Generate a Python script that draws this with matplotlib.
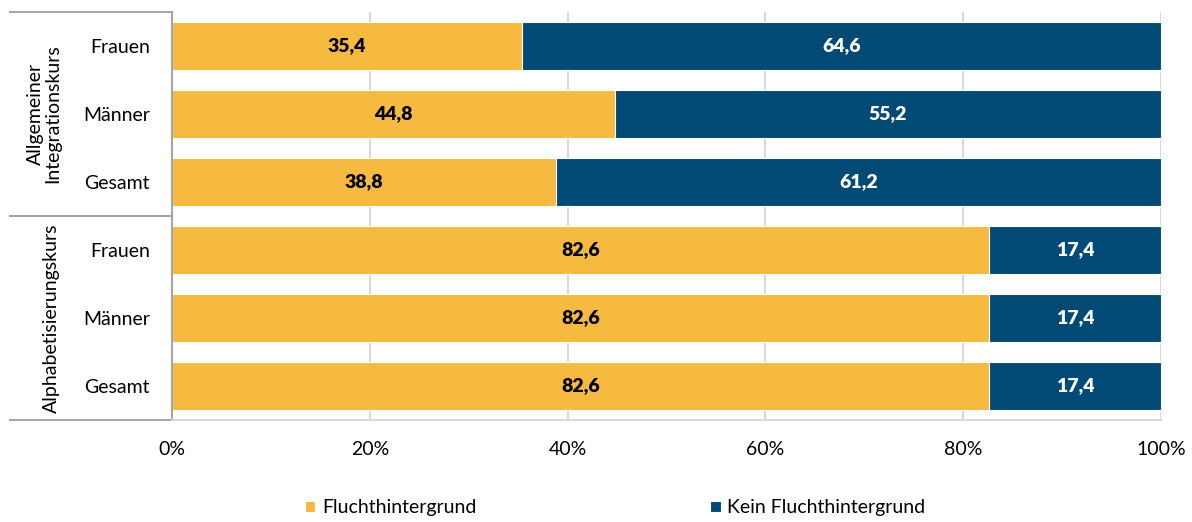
import numpy as np
import matplotlib.pyplot as plt
import matplotlib.transforms as mtransforms

plt.rcParams['font.family'] = ['Lato', 'DejaVu Sans']

# Daten
kategorien = ['Frauen', 'Männer', 'Gesamt', 'Frauen', 'Männer', 'Gesamt']
gruppen = ['Allgemeiner\nIntegrationskurs', 'Alphabetisierungskurs']
flucht = [35.4, 44.8, 38.8, 82.6, 82.6, 82.6]
kein_flucht = [64.6, 55.2, 61.2, 17.4, 17.4, 17.4]
x_ticks = [0, 20, 40, 60, 80, 100]
x_labels = ['0%', '20%', '40%', '60%', '80%', '100%']

gelb = '#F5BA3F'
blau = '#004A75'

fig = plt.figure(figsize=(11.92, 5.22), dpi=100)
ax = fig.add_axes([0.1443, 0.1954, 0.8297, 0.7816])

y = np.arange(len(kategorien))
b1 = ax.barh(y, flucht, height=0.7, color=gelb, edgecolor='white', linewidth=0.8,
             label='Fluchthintergrund')
b2 = ax.barh(y, kein_flucht, left=flucht, height=0.7, color=blau, edgecolor='white',
             linewidth=0.8, label='Kein Fluchthintergrund')

for i in range(len(y)):
    ax.text(flucht[i] / 2, y[i], f'{flucht[i]:.1f}'.replace('.', ','), ha='center',
            va='center', fontsize=14, fontweight='heavy', color='black')
    ax.text(flucht[i] + kein_flucht[i] / 2, y[i], f'{kein_flucht[i]:.1f}'.replace('.', ','),
            ha='center', va='center', fontsize=14, fontweight='heavy', color='white')

ax.set_xlim(0, 100)
ax.set_ylim(5.5, -0.5)
ax.set_xticks(x_ticks)
ax.set_xticklabels(x_labels, fontsize=14)
ax.set_yticks(y)
ax.set_yticklabels(kategorien, fontsize=14)
ax.tick_params(axis='both', length=0)
ax.tick_params(axis='x', pad=15)
ax.tick_params(axis='y', pad=16)

ax.set_axisbelow(True)
ax.grid(axis='x', color='#d9d9d9', linewidth=1.5)
ax.grid(axis='y', visible=False)
for s in ['top', 'right']:
    ax.spines[s].set_visible(False)
ax.spines['left'].set_color('#a6a6a6')
ax.spines['left'].set_linewidth(1.5)
ax.spines['bottom'].set_color('#d9d9d9')
ax.spines['bottom'].set_linewidth(1.5)

# Gruppentrenner und Gruppenbeschriftungen
trans = mtransforms.blended_transform_factory(ax.transAxes, ax.transData)
for yy in [-0.5, 2.5, 5.5]:
    ax.plot([-0.164, 0], [yy, yy], color='#a6a6a6', linewidth=1.5, transform=trans,
            clip_on=False)
ax.text(-0.129, 1, gruppen[0], rotation=90, ha='center', va='center', fontsize=14,
        transform=trans, linespacing=1.0)
ax.text(-0.122, 4, gruppen[1], rotation=90, ha='center', va='center', fontsize=14,
        transform=trans)

fig.legend(handles=[b1, b2], loc='center', bbox_to_anchor=(0.516, 0.027), ncol=2,
           frameon=False, fontsize=14, handlelength=0.55, handleheight=0.55,
           handletextpad=0.35, columnspacing=12.0)

fig.savefig('out.png', dpi=100)
